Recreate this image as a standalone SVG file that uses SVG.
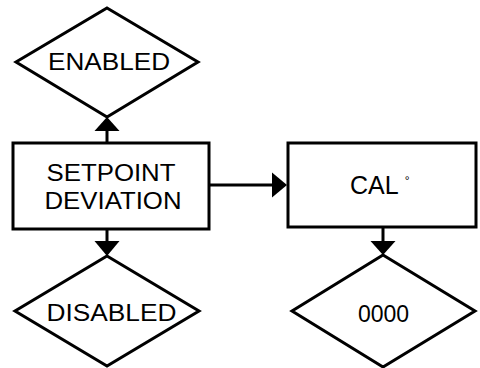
<svg xmlns="http://www.w3.org/2000/svg" width="480" height="368" viewBox="0 0 480 368">
<style>
.shape{fill:#fff;stroke:#000;stroke-width:3}
.line{stroke:#000;stroke-width:3;fill:none}
.head{fill:#000}
.t{font-family:"Liberation Sans",Arial,sans-serif;font-size:23px;fill:#000}
</style>
<rect width="480" height="368" fill="#fff"/>
<g id="connectors">
<line class="line" x1="107" y1="143" x2="107" y2="128"/>
<polygon class="head" points="107,117 94.5,131 119.5,131"/>
<line class="line" x1="107" y1="229" x2="107" y2="242"/>
<polygon class="head" points="107,256 94.5,241 119.5,241"/>
<line class="line" x1="209" y1="185" x2="274" y2="185"/>
<polygon class="head" points="287,185 272,172.5 272,197.5"/>
<line class="line" x1="383" y1="227" x2="383" y2="242"/>
<polygon class="head" points="383,255 370.5,241 395.5,241"/>
</g>
<g id="enabled">
<polygon class="shape" points="107,8 198,62 107,117 16,62"/>
<text class="t" x="109" y="69.5" text-anchor="middle" textLength="122" lengthAdjust="spacingAndGlyphs">ENABLED</text>
</g>
<g id="setpoint">
<rect class="shape" x="13" y="143" width="196" height="86"/>
<text class="t" x="111" y="181" text-anchor="middle" textLength="129" lengthAdjust="spacingAndGlyphs">SETPOINT</text>
<text class="t" x="113" y="209" text-anchor="middle" textLength="137" lengthAdjust="spacingAndGlyphs">DEVIATION</text>
</g>
<g id="disabled">
<polygon class="shape" points="107,256 199,311 107,366 15,311"/>
<text class="t" x="111.5" y="321" text-anchor="middle" textLength="130" lengthAdjust="spacingAndGlyphs">DISABLED</text>
</g>
<g id="cal">
<rect class="shape" x="288" y="143" width="188" height="84"/>
<text class="t" x="350" y="194" style="font-size:25px">CAL <tspan style="font-size:12px" dy="-9">°</tspan></text>
</g>
<g id="zero">
<polygon class="shape" points="383,255 475,311 383,367 292,311"/>
<text class="t" x="383.5" y="321.5" text-anchor="middle">0000</text>
</g>
</svg>
